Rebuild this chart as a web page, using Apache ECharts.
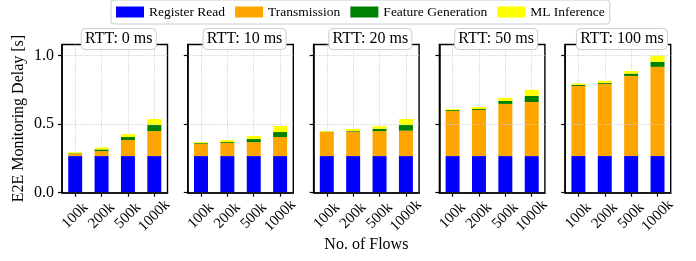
<!DOCTYPE html>
<html>
<head>
<meta charset="utf-8">
<script src="https://cdn.jsdelivr.net/npm/echarts@6/dist/echarts.min.js"></script>
<style>html,body{margin:0;padding:0;background:#fff}#c{width:696px;height:261px}</style>
</head>
<body>
<div id="c"></div>
<script>
// ---- data ----
const categories = ['100k', '200k', '500k', '1000k'];
const rttLabels = ['RTT: 0 ms', 'RTT: 10 ms', 'RTT: 20 ms', 'RTT: 50 ms', 'RTT: 100 ms'];
const seriesNames = ['Register Read', 'Transmission', 'Feature Generation', 'ML Inference'];
const seriesColors = ['#0000ff', '#ffa500', '#008000', '#ffff00'];
const yTicks = [0, 0.5, 1.0];
// one row per RTT panel, one value per flow count
const registerRead = [
  [0.267, 0.267, 0.267, 0.267],
  [0.267, 0.267, 0.267, 0.267],
  [0.267, 0.267, 0.267, 0.267],
  [0.267, 0.267, 0.267, 0.267],
  [0.267, 0.267, 0.267, 0.267]
];
const transmission = [
  [0.018, 0.036, 0.117, 0.182],
  [0.088, 0.095, 0.102, 0.139],
  [0.175, 0.178, 0.182, 0.185],
  [0.328, 0.336, 0.380, 0.394],
  [0.511, 0.526, 0.584, 0.650]
];
const featureGeneration = [
  [0.003, 0.012, 0.022, 0.044],
  [0.006, 0.007, 0.022, 0.036],
  [0.003, 0.005, 0.017, 0.041],
  [0.007, 0.007, 0.022, 0.044],
  [0.007, 0.007, 0.017, 0.036]
];
const mlInference = [
  [0.007, 0.015, 0.022, 0.044],
  [0.007, 0.015, 0.022, 0.044],
  [0.005, 0.015, 0.019, 0.044],
  [0.007, 0.015, 0.022, 0.044],
  [0.010, 0.015, 0.019, 0.046]
];
const allSeries = [registerRead, transmission, featureGeneration, mlInference];

// ---- layout ----
const FONT = "'Liberation Serif', 'Times New Roman', serif";
const panelLeft0 = 62, panelStep = 125.8, panelW = 105.5, panelTop = 44.5, panelH = 148.2;
const yMax = 1.08;

const grids = [], xAxes = [], yAxes = [], series = [], titles = [];
rttLabels.forEach((t, i) => {
  const left = panelLeft0 + i * panelStep;
  grids.push({left: left, top: panelTop, width: panelW, height: panelH, show: true,
    borderColor: '#000', borderWidth: 1.4, backgroundColor: 'transparent', containLabel: false});
  xAxes.push({type: 'category', gridIndex: i, data: categories, boundaryGap: true, z: 10,
    axisLine: {show: true, lineStyle: {color: '#000', width: 1.5}},
    axisTick: {show: true, alignWithLabel: true, length: 4, inside: false, lineStyle: {color: '#000', width: 1.2}},
    axisLabel: {show: true, rotate: 45, align: 'center', verticalAlign: 'middle', margin: 23, interval: 0,
      fontFamily: FONT, fontSize: 15, color: '#000'},
    splitLine: {show: false}});
  yAxes.push({type: 'value', gridIndex: i, min: 0, max: yMax, interval: 0.5, z: 10,
    axisLine: {show: true, lineStyle: {color: '#000', width: 1.5}},
    axisTick: {show: true, length: 4, customValues: yTicks, lineStyle: {color: '#000', width: 1.2}},
    axisLabel: {show: i === 0, customValues: yTicks, margin: 8, fontFamily: FONT, fontSize: 16, color: '#000',
      formatter: v => v.toFixed(1)},
    splitLine: {show: true, lineStyle: {type: 'dotted', color: '#cfcfcf', width: 0.9}}});
  titles.push({text: t, left: left + panelW / 2, textAlign: 'center', top: 28,
    padding: [3, 4], backgroundColor: '#fff', borderColor: '#cccccc', borderWidth: 1, borderRadius: 4,
    textStyle: {fontFamily: FONT, fontSize: 16, fontWeight: 'normal', color: '#000'}});
  seriesNames.forEach((name, k) => {
    const s = {name: name, type: 'bar', xAxisIndex: i, yAxisIndex: i, stack: 'p' + i,
      data: allSeries[k][i], barWidth: '53%', itemStyle: {color: seriesColors[k]}, z: 3};
    if (k === 0) {
      s.markLine = {silent: true, symbol: 'none', z: 1, animation: false,
        label: {show: false},
        lineStyle: {type: 'dotted', color: '#cfcfcf', width: 0.9},
        data: categories.map(c => ({xAxis: c}))};
    }
    series.push(s);
  });
});

const chart = echarts.init(document.getElementById('c'), null, {renderer: 'canvas'});
chart.setOption({
  animation: false,
  backgroundColor: '#fff',
  title: titles,
  legend: {data: seriesNames, left: 111, top: 0, orient: 'horizontal',
    padding: [5, 5, 5, 5], itemWidth: 28, itemHeight: 11, itemGap: 10, icon: 'rect',
    backgroundColor: '#fff', borderColor: '#cccccc', borderWidth: 1, borderRadius: 3,
    textStyle: {fontFamily: FONT, fontSize: 13.5, color: '#000'}},
  grid: grids, xAxis: xAxes, yAxis: yAxes, series: series,
  graphic: [
    {type: 'text', x: 19, y: panelTop + panelH / 2, rotation: Math.PI / 2,
      style: {text: 'E2E Monitoring Delay [s]', fontFamily: FONT, fontSize: 16, fill: '#000',
        align: 'center', verticalAlign: 'middle'}},
    {type: 'text', x: panelLeft0 + (4 * panelStep + panelW) / 2, y: 245,
      style: {text: 'No. of Flows', fontFamily: FONT, fontSize: 16, fill: '#000',
        align: 'center', verticalAlign: 'middle'}}
  ]
});
</script>
</body>
</html>
